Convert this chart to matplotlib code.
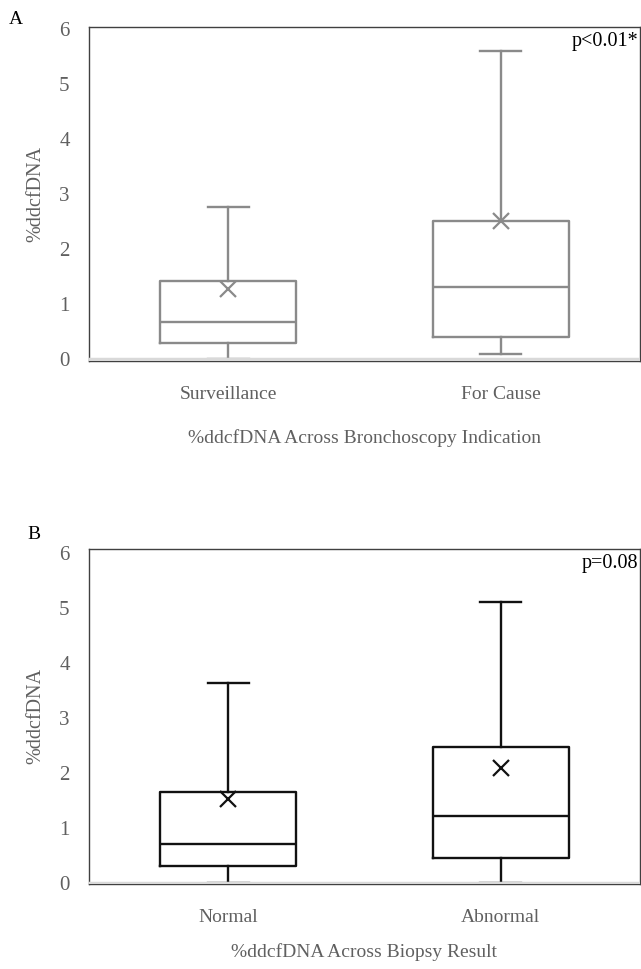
import matplotlib
matplotlib.use('Agg')
import matplotlib.pyplot as plt

plt.rcParams['font.family'] = ['Liberation Serif', 'DejaVu Serif']

# Panel A: bronchoscopy indication
cats_a = ['Surveillance', 'For Cause']
min_a = [0.0, 0.1]
q1_a = [0.29, 0.40]
med_a = [0.68, 1.31]
q3_a = [1.43, 2.52]
max_a = [2.77, 5.6]
mean_a = [1.28, 2.51]

# Panel B: biopsy result
cats_b = ['Normal', 'Abnormal']
min_b = [0.0, 0.0]
q1_b = [0.31, 0.45]
med_b = [0.70, 1.21]
q3_b = [1.65, 2.47]
max_b = [3.63, 5.1]
mean_b = [1.53, 2.09]

yticks = [0, 1, 2, 3, 4, 5, 6]
txt_gray = '#606060'


def panel(ax, cats, mn, q1, med, q3, mx, mean, color, ptext, xtitle, letter,
          ylim, titlepad, letterpos):
    stats = []
    for i in range(len(cats)):
        stats.append(dict(label=cats[i], whislo=mn[i], q1=q1[i], med=med[i],
                          q3=q3[i], whishi=mx[i], mean=mean[i], fliers=[]))
    lp = dict(color=color, linewidth=1.7)
    ax.bxp(stats, positions=[1, 2], widths=0.5, showmeans=True, showfliers=False,
           boxprops=lp, medianprops=lp, whiskerprops=lp, capprops=lp,
           capwidths=0.15,
           meanprops=dict(marker='x', markersize=11, markeredgewidth=1.6,
                          markeredgecolor=color))
    ax.axhline(0, color='#d9d9d9', linewidth=2.5, zorder=5)
    ax.set_xlim(0.49, 2.51)
    ax.set_ylim(*ylim)
    ax.set_yticks(yticks)
    ax.tick_params(length=0, labelsize=14, labelcolor=txt_gray, pad=14)
    ax.tick_params(axis='y', labelsize=15)
    ax.tick_params(axis='x', pad=18)
    for s in ax.spines.values():
        s.set_color('#404040')
        s.set_linewidth(1.0)
    ax.set_ylabel('%ddcfDNA', fontsize=14.5, color=txt_gray, labelpad=10)
    ax.set_xlabel(xtitle, fontsize=14, color=txt_gray, labelpad=titlepad)
    ax.text(0.997, 0.985, ptext, transform=ax.transAxes, ha='right', va='top',
            fontsize=14.5, color='black')
    ax.text(letterpos[0], letterpos[1], letter, transform=ax.transAxes,
            ha='left', va='center', fontsize=14, color='black')


fig = plt.figure(figsize=(6.41, 9.69), dpi=100)
ax1 = fig.add_axes([0.139, 0.6275, 0.859, 0.345])
ax2 = fig.add_axes([0.139, 0.0877, 0.859, 0.346])

panel(ax1, cats_a, min_a, q1_a, med_a, q3_a, max_a, mean_a, '#8a8a8a',
      'p<0.01*', '%ddcfDNA Across Bronchoscopy Indication', 'A',
      (-0.03, 6.04), 19, (-0.145, 1.02))
panel(ax2, cats_b, min_b, q1_b, med_b, q3_b, max_b, mean_b, '#111111',
      'p=0.08', '%ddcfDNA Across Biopsy Result', 'B',
      (-0.02, 6.07), 12, (-0.112, 1.042))

fig.savefig('out.png', dpi=100)
